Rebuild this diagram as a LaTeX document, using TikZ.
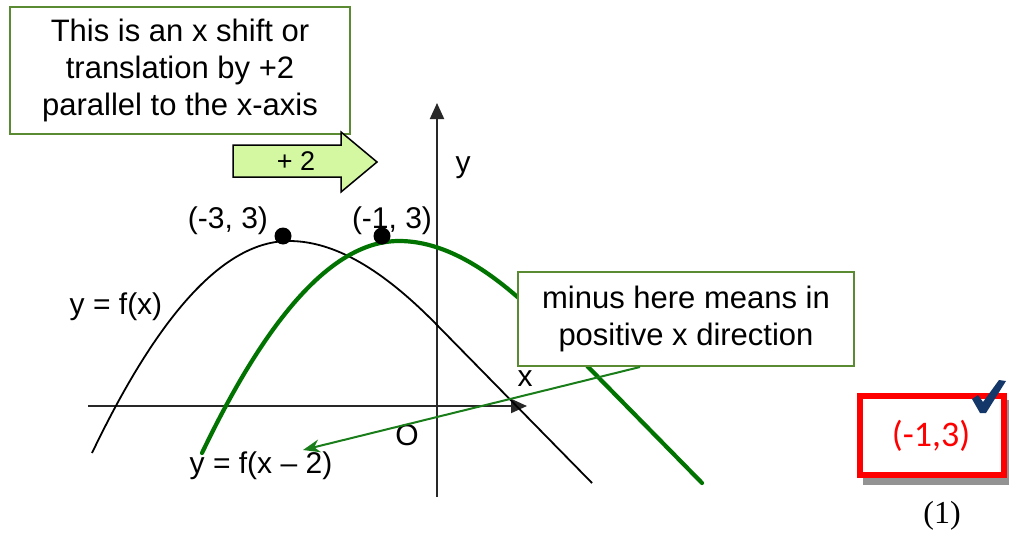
\documentclass[tikz,border=0pt]{standalone}
\usepackage{fontspec}
\setmainfont{Liberation Sans}
\newfontfamily\carlito{Carlito}
\newfontfamily\tnr{Liberation Serif}
\usetikzlibrary{arrows.meta}
\definecolor{boxgreen}{RGB}{90,138,50}
\definecolor{curvegreen}{RGB}{0,115,0}
\definecolor{notegreen}{RGB}{25,125,25}
\definecolor{arrowfill}{RGB}{212,248,162}
\definecolor{ticknavy}{RGB}{20,55,105}
\definecolor{axisgray}{RGB}{40,40,40}
\tikzset{
  notebox/.style={draw=boxgreen, line width=2pt, fill=white, align=center, inner sep=0pt,
    font=\fontsize{31}{37}\selectfont},
  lbl/.style={inner sep=0pt, font=\fontsize{30}{36}\selectfont},
  axisline/.style={draw=axisgray, line width=2pt, -{Triangle[length=16pt,width=14pt]}},
  fcurve/.style={draw=black, line width=1.8pt},
  gcurve/.style={draw=curvegreen, line width=4.2pt},
  vdot/.style={circle, fill=black, inner sep=0pt, minimum size=17pt},
}
\begin{document}
\begin{tikzpicture}[x=1pt,y=-1pt]
\useasboundingbox (0,0) rectangle (1009,535);
% axes
\coordinate (xl) at (88,406);
\coordinate (xr) at (527,406);
\coordinate (yb) at (437,497);
\coordinate (yt) at (437,103);
\draw[axisline] (xl) -- (xr);
\draw[axisline] (yb) -- (yt);
\node[lbl] (xlab) at (525,379) {x};
\node[lbl] (ylab) at (463,168) {y};
\node[lbl] (olab) at (407,435) {O};
% curves
\draw[fcurve] (92,453) .. controls (157.7,316) and (223.3,241) .. (289,241)
  .. controls (340,241) and (390,277) .. (437,325) -- (592,483);
\draw[gcurve, line cap=round] (202,453) .. controls (267.7,316) and (333.3,241) .. (399,241)
  .. controls (450,241) and (500,277) .. (547,325) -- (702,483);
\node[vdot] (d1) at (283,236) {};
\node[vdot] (d2) at (382,236) {};
\node[lbl] (l1) at (228,221) {(-3, 3)};
\node[lbl] (l2) at (392,221) {(-1, 3)};
\node[lbl] (l3) at (116,307) {y = f(x)};
\node[lbl] (l4) at (261,466) {y = f(x -- 2)};
% top box
\node[notebox, minimum width=340pt, minimum height=127pt] (top) at (180,70.5)
  {This is an x shift or\\translation by +2\\parallel to the x-axis};
% +2 arrow
\draw[fill=arrowfill, draw=black, line width=1.5pt, line join=miter]
  (233,145) -- (341,145) -- (341,132) -- (377,162) -- (341,192) -- (341,177) -- (233,177) -- cycle;
\node[inner sep=0pt, font=\fontsize{27}{30}\selectfont] (plus) at (296,161) {+ 2};
% bottom box
\node[notebox, minimum width=336pt, minimum height=94pt] (bot) at (686,319)
  {minus here means in\\positive x direction};
\coordinate (ns) at (640,367);
\coordinate (ne) at (303,450);
\draw[draw=notegreen, line width=2pt, -{Stealth[length=17pt,width=13pt]}] (ns) -- (ne);
% answer box
\fill[gray!85] (863,400) rectangle (1012,485);
\node[draw=red, fill=white, line width=6pt, minimum width=144pt, minimum height=79pt, inner sep=0pt] (ans) at (932,435.5) {};
\node[inner sep=0pt, text=red, font=\carlito\fontsize{36}{40}\selectfont] (anstxt) at (931,436) {(-1,3)};
\fill[ticknavy] (972,399) -- (978,395) -- (983,402) -- (999,380) -- (1006,381) -- (986,413) -- (980,413) -- cycle;
\node[inner sep=0pt, font=\tnr\fontsize{32}{36}\selectfont] (mark) at (942,516) {(1)};
\end{tikzpicture}
\end{document}
